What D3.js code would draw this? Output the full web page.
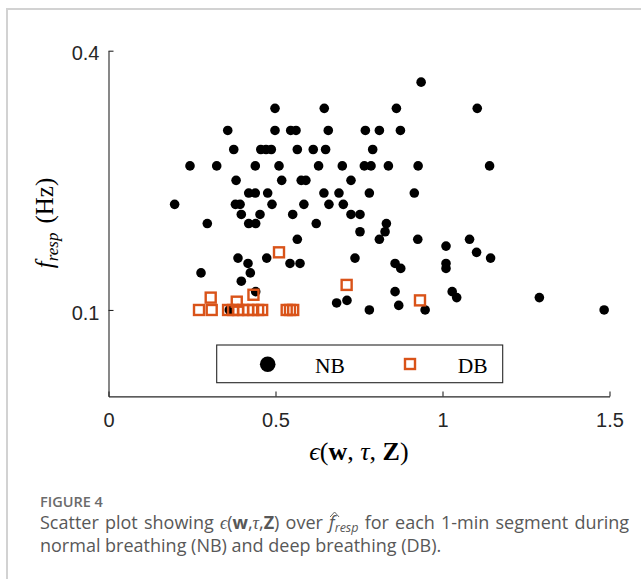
<!DOCTYPE html>
<html>
<head>
<meta charset="utf-8">
<script src="https://cdn.jsdelivr.net/npm/d3@7"></script>
<style>
  html, body { margin: 0; padding: 0; background: #fff; }
  svg { display: block; }
</style>
</head>
<body>
<script>
// Axis ticks
const xTicks = [0, 0.5, 1, 1.5];
const yTicks = [0.1, 0.4];

// Normal breathing (NB): epsilon(w, tau, Z) and respiratory frequency (Hz)
const nbEps = [0.936, 0.4985, 0.646, 0.862, 1.104, 0.357, 0.4985, 0.5455, 0.5614, 0.658,
  0.769, 0.811, 0.874, 0.375, 0.456, 0.4716, 0.4874, 0.5653, 0.613, 0.650,
  0.791, 0.244, 0.324, 0.4395, 0.5105, 0.629, 0.700, 0.766, 0.786, 0.838,
  0.927, 1.141, 0.382, 0.5186, 0.577, 0.591, 0.726, 0.4198, 0.4395, 0.4766,
  0.645, 0.690, 0.781, 0.9156, 0.198, 0.380, 0.394, 0.4895, 0.585, 0.660,
  0.703, 0.3976, 0.4536, 0.5515, 0.726, 0.753, 0.2958, 0.4198, 0.4407, 0.622,
  0.832, 0.753, 0.828, 0.5653, 0.811, 0.926, 1.081, 1.0105, 1.102, 0.3877,
  0.4737, 0.738, 1.144, 0.4177, 0.5434, 0.5734, 0.858, 1.0105, 0.875, 1.0105,
  0.277, 0.4246, 0.3976, 0.4407, 0.858, 1.029, 1.0425, 1.290, 0.714, 0.683,
  0.869, 0.781, 0.948, 1.484, 0.3617];
const nbFreq = [0.3636, 0.3333, 0.3333, 0.3333, 0.3333, 0.3077, 0.3077, 0.3077, 0.3077, 0.3077,
  0.3077, 0.3077, 0.3077, 0.2857, 0.2857, 0.2857, 0.2857, 0.2857, 0.2857, 0.2857,
  0.2857, 0.2667, 0.2667, 0.2667, 0.2667, 0.2667, 0.2667, 0.2667, 0.2667, 0.2667,
  0.2667, 0.2667, 0.25, 0.25, 0.25, 0.25, 0.25, 0.2353, 0.2353, 0.2353,
  0.2353, 0.2353, 0.2353, 0.2353, 0.2222, 0.2222, 0.2222, 0.2222, 0.2222, 0.2222,
  0.2222, 0.2105, 0.2105, 0.2105, 0.2105, 0.2105, 0.2, 0.2, 0.2, 0.2,
  0.2, 0.1905, 0.1905, 0.1818, 0.1818, 0.1818, 0.1818, 0.1739, 0.1667, 0.16,
  0.16, 0.16, 0.16, 0.1538, 0.1538, 0.1538, 0.1538, 0.1538, 0.1481, 0.1481,
  0.1429, 0.1429, 0.1333, 0.1212, 0.1212, 0.1212, 0.1143, 0.1143, 0.1111, 0.1081,
  0.1053, 0.1, 0.1, 0.1, 0.1];

// Deep breathing (DB)
const dbEps = [0.5105, 0.713, 0.306, 0.434, 0.384, 0.9326, 0.271, 0.309, 0.358, 0.373,
  0.388, 0.403, 0.418, 0.433, 0.448, 0.460, 0.5335, 0.5434, 0.553];
const dbFreq = [0.1667, 0.129, 0.1143, 0.1176, 0.1096, 0.1111, 0.1, 0.1, 0.1, 0.1,
  0.1, 0.1, 0.1, 0.1, 0.1, 0.1, 0.1, 0.1, 0.1];

const legendLabels = ["NB", "DB"];

const W = 641, H = 579;
const ink = "#262626";
const orange = "#D95319";
const capInk = "#585858";
const serif = "'Liberation Serif', 'DejaVu Serif', serif";
const sans = "'Liberation Sans', Arial, sans-serif";
const capFont = "'Open Sans', 'Noto Sans', sans-serif";

const svg = d3.select("body").append("svg")
  .attr("width", W).attr("height", H);

// panel frame
svg.append("path")
  .attr("d", `M7,${H} V9 H${W}`)
  .attr("fill", "none")
  .attr("stroke", "#d2d2d2")
  .attr("stroke-width", 2);

const x = d3.scaleLinear().domain([0, 1.5]).range([108.5, 609.5]);
const y = d3.scaleLinear().domain([0, 0.4]).range([396.4, 50.7]);

const gx = svg.append("g")
  .attr("transform", `translate(0,${y(0)})`)
  .call(d3.axisBottom(x).tickValues(xTicks).tickFormat(d => String(d))
    .tickSizeInner(-5).tickSizeOuter(0).tickPadding(16));
const gy = svg.append("g")
  .attr("transform", `translate(${x(0)},0)`)
  .call(d3.axisLeft(y).tickValues(yTicks).tickFormat(d => String(d))
    .tickSizeInner(-5).tickSizeOuter(0).tickPadding(9));

[gx, gy].forEach(g => {
  g.select(".domain").attr("stroke", ink).attr("stroke-width", 1.1);
  g.selectAll(".tick line").attr("stroke", ink).attr("stroke-width", 1.1);
  g.selectAll(".tick text")
    .attr("fill", ink)
    .attr("font-family", sans)
    .attr("font-size", 20);
});
gy.selectAll(".tick text").attr("dy", "0.46em");

// NB points
svg.append("g").selectAll("circle")
  .data(nbEps.map((e, i) => [e, nbFreq[i]]))
  .join("circle")
  .attr("cx", d => x(d[0]))
  .attr("cy", d => y(d[1]))
  .attr("r", 4.8)
  .attr("fill", "#000");

// DB points (open squares)
const sq = 10;
svg.append("g").selectAll("rect")
  .data(dbEps.map((e, i) => [e, dbFreq[i]]))
  .join("rect")
  .attr("x", d => x(d[0]) - sq / 2)
  .attr("y", d => y(d[1]) - sq / 2)
  .attr("width", sq)
  .attr("height", sq)
  .attr("fill", "none")
  .attr("stroke", orange)
  .attr("stroke-width", 2.4);

// Legend
const lg = svg.append("g");
lg.append("rect")
  .attr("x", 216.7).attr("y", 345).attr("width", 286).attr("height", 37.7)
  .attr("fill", "#fff").attr("stroke", ink).attr("stroke-width", 1.1);
lg.append("circle").attr("cx", 267.7).attr("cy", 364.3).attr("r", 7.8).attr("fill", "#000");
lg.append("rect").attr("x", 410 - sq / 2).attr("y", 364 - sq / 2)
  .attr("width", sq).attr("height", sq)
  .attr("fill", "none").attr("stroke", orange).attr("stroke-width", 2.4);
lg.selectAll("text.lab")
  .data(legendLabels)
  .join("text")
  .attr("class", "lab")
  .attr("x", (d, i) => i === 0 ? 315 : 457.7)
  .attr("y", 373.3)
  .attr("font-family", serif)
  .attr("font-size", 21.5)
  .attr("fill", "#000")
  .text(d => d);

// x-axis label: ϵ(w, τ, Z)
const xl = svg.append("text")
  .attr("x", 359).attr("y", 460)
  .attr("text-anchor", "middle")
  .attr("font-family", serif)
  .attr("font-size", 26)
  .attr("fill", "#000");
xl.append("tspan").attr("font-style", "italic").text("ϵ");
xl.append("tspan").text("(");
xl.append("tspan").attr("font-weight", "bold").text("w");
xl.append("tspan").text(", ");
xl.append("tspan").attr("font-style", "italic").text("τ");
xl.append("tspan").text(", ");
xl.append("tspan").attr("font-weight", "bold").text("Z");
xl.append("tspan").text(")");

// y-axis label: f_resp (Hz)
const yl = svg.append("text")
  .attr("transform", "translate(53,223) rotate(-90)")
  .attr("text-anchor", "middle")
  .attr("font-family", serif)
  .attr("font-size", 25)
  .attr("fill", "#000");
yl.append("tspan").attr("font-style", "italic").text("f");
yl.append("tspan").attr("font-style", "italic").attr("font-size", 17).attr("dy", 5).text("resp");
yl.append("tspan").attr("dy", -5).attr("dx", 9).text("(Hz)");

// Caption
svg.append("text")
  .attr("x", 40).attr("y", 506.5)
  .attr("font-family", capFont)
  .attr("font-size", 14.5)
  .attr("font-weight", 600)
  .attr("fill", "#6b6b6b")
  .text("FIGURE 4");

const c1y = 529;
const c1 = svg.append("text")
  .attr("x", 40).attr("y", c1y)
  .attr("font-family", capFont)
  .attr("font-size", 18)
  .attr("word-spacing", 1.5)
  .attr("fill", capInk);
c1.append("tspan").text("Scatter plot showing ");
c1.append("tspan").attr("font-style", "italic").attr("font-family", serif).text("ϵ");
c1.append("tspan").text("(");
c1.append("tspan").attr("font-weight", "bold").text("w");
c1.append("tspan").text(",");
c1.append("tspan").attr("font-style", "italic").attr("font-family", serif).text("τ");
c1.append("tspan").text(",");
c1.append("tspan").attr("font-weight", "bold").text("Z");
c1.append("tspan").text(") over ");
const fhat = c1.append("tspan").attr("font-style", "italic").text("f");
c1.append("tspan").attr("font-style", "italic").attr("font-size", 12.5).attr("dy", 2.5).text("resp");
c1.append("tspan").attr("dy", -2.5).text(" for each 1-min segment during");

// hat over f in the caption
const fx = fhat.node().getStartPositionOfChar(0).x;
svg.append("path")
  .attr("d", `M${fx + 1},${c1y - 12} L${fx + 5.5},${c1y - 17} L${fx + 10},${c1y - 12}`)
  .attr("fill", "none")
  .attr("stroke", capInk)
  .attr("stroke-width", 0.9);

svg.append("text")
  .attr("x", 40).attr("y", 552)
  .attr("font-family", capFont)
  .attr("font-size", 18)
  .attr("fill", capInk)
  .text("normal breathing (NB) and deep breathing (DB).");
</script>
</body>
</html>
